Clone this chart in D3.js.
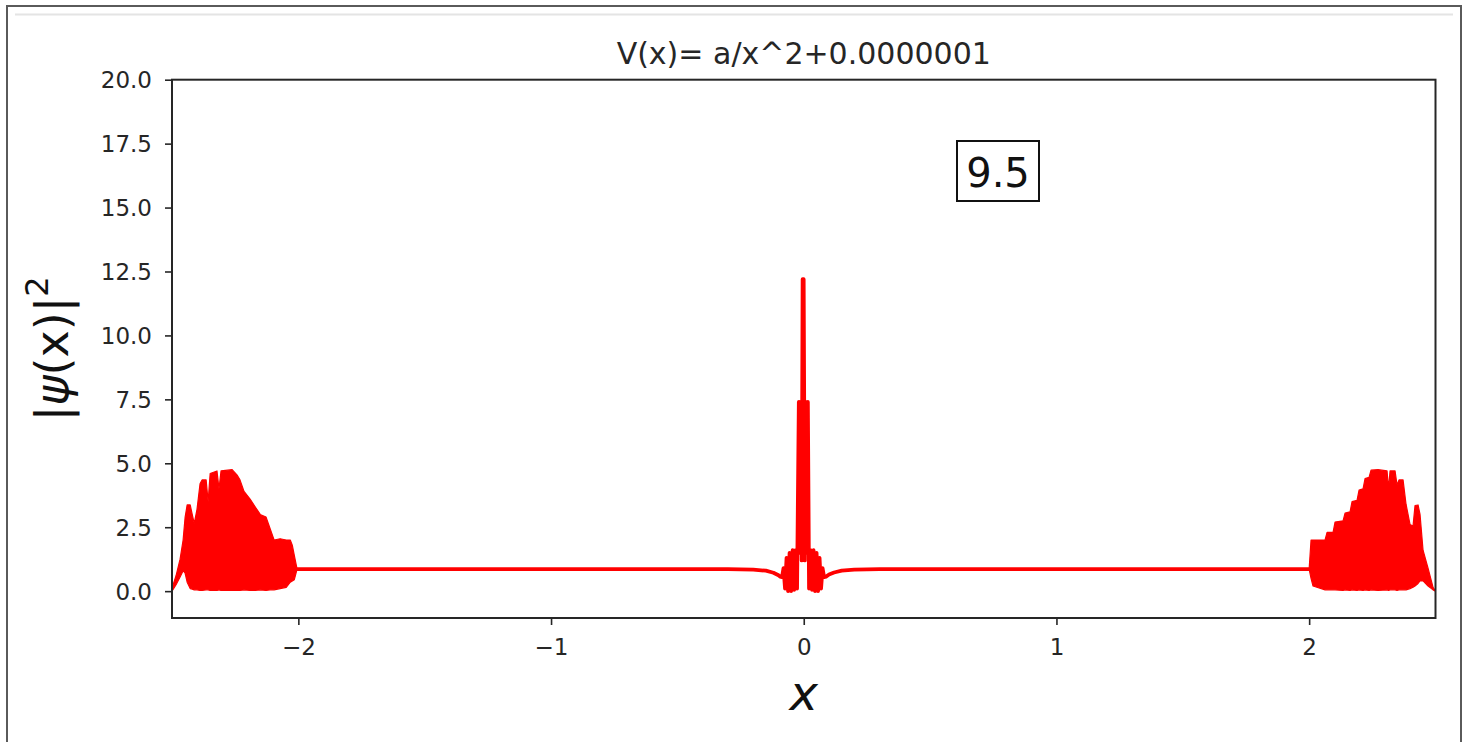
<!DOCTYPE html>
<html><head><meta charset="utf-8">
<script src="https://cdn.jsdelivr.net/npm/d3@7"></script>
<style>
body{margin:0;background:#fff;}
text{font-family:"DejaVu Sans",sans-serif;}
</style>
</head><body>
<svg id="chart" width="1467" height="742"></svg>
<script>
// ---- data ----
const titleText = "V(x)= a/x^2+0.0000001";
const annotationText = "9.5";
const xTicks = [-2, -1, 0, 1, 2];
const xTickLabels = ["\u22122", "\u22121", "0", "1", "2"];
const yTicks = [0, 2.5, 5, 7.5, 10, 12.5, 15, 17.5, 20];
const yTickLabels = ["0.0", "2.5", "5.0", "7.5", "10.0", "12.5", "15.0", "17.5", "20.0"];
const xDomain = [-2.5, 2.5];
const yDomain = [-1.05, 20];

// left oscillating packet: envelope of |psi|^2 (upper / lower)
const leftBurstX = [-2.500,-2.484,-2.468,-2.456,-2.448,-2.440,-2.428,-2.420,-2.412,-2.401,-2.389,-2.381,-2.365,-2.357,-2.349,-2.322,-2.314,-2.306,-2.262,-2.243,-2.231,-2.215,-2.191,-2.171,-2.151,-2.128,-2.112,-2.096,-2.072,-2.048,-2.032,-2.024,-2.016,-2.005];
const leftBurstUpper = [0.12,0.6,1.25,2.0,2.9,3.37,3.37,3.0,2.65,3.2,4.2,4.35,4.35,3.5,4.6,4.7,4.0,4.7,4.75,4.55,4.35,3.9,3.6,3.3,3.0,2.9,2.45,2.0,2.05,2.0,2.0,1.8,1.4,0.86];
const leftBurstLower = [0.0,0.25,0.55,0.8,0.7,0.35,0.1,0.08,0.05,0.05,0.03,0.03,0.05,0.05,0.03,0.03,0.05,0.03,0.03,0.03,0.03,0.05,0.03,0.03,0.05,0.03,0.05,0.05,0.1,0.15,0.35,0.4,0.45,0.86];

// right oscillating packet
const rightBurstX = [2.000,2.0075,2.0154,2.0630,2.0709,2.0946,2.1025,2.1342,2.1421,2.1619,2.1698,2.1895,2.1975,2.2133,2.2212,2.2370,2.2450,2.2727,2.3083,2.3142,2.3201,2.3399,2.3478,2.3557,2.3716,2.3834,2.3993,2.4111,2.4190,2.4309,2.4388,2.4507,2.4705,2.4903,2.500];
const rightBurstUpper = [0.86,2.0,2.0,2.0,2.3,2.3,2.7,2.75,3.05,3.1,3.5,3.55,3.95,4.0,4.4,4.45,4.73,4.75,4.7,4.0,4.7,4.7,4.15,4.35,4.35,3.4,2.6,2.55,3.35,3.37,3.0,1.6,0.9,0.15,0.0];
const rightBurstLower = [0.86,0.5,0.2,0.05,0.05,0.05,0.05,0.03,0.05,0.03,0.05,0.03,0.05,0.03,0.05,0.03,0.05,0.03,0.05,0.03,0.05,0.05,0.03,0.05,0.05,0.05,0.1,0.15,0.2,0.3,0.4,0.4,0.2,0.05,0.0];

// central part of the curve (flat plateau + spike at x = 0)
const centreX = [-2.005,-1.0,-0.30,-0.20,-0.15,-0.12,-0.10,-0.0938,-0.0859,-0.080,-0.074,-0.068,-0.062,-0.056,-0.050,-0.044,-0.038,-0.032,-0.0265,-0.0194,-0.0154,-0.0123,-0.0083,-0.0044,-0.0004,0.0044,0.0083,0.0123,0.0162,0.0210,0.0269,0.0328,0.0388,0.0447,0.0507,0.0566,0.0625,0.0684,0.0744,0.0803,0.0882,0.10,0.12,0.15,0.20,0.30,1.0,2.000];
const centreY = [0.86,0.86,0.86,0.84,0.80,0.72,0.62,0.57,0.55,0.9,0.1,1.3,0.0,1.5,0.0,1.6,0.05,1.6,0.1,7.4,1.5,7.4,1.2,12.2,12.2,1.2,7.4,1.5,7.4,0.1,1.6,0.05,1.6,0.0,1.5,0.0,1.3,0.1,0.9,0.55,0.57,0.65,0.73,0.80,0.84,0.86,0.86,0.86];

// ---- layout ----
const W = 1467, H = 742;
const plot = {left: 172, right: 1435.5, top: 79.7, bottom: 618};
const red = "#ff0000", ink = "#262626";

const svg = d3.select("#chart");
svg.append("rect").attr("width", W).attr("height", H).attr("fill", "#fff");

// outer frame of the screenshot
svg.append("rect").attr("x", 7).attr("y", 6).attr("width", 1454).attr("height", 760)
  .attr("fill", "none").attr("stroke", "#5a5a5a").attr("stroke-width", 2);
svg.append("line").attr("x1", 15).attr("x2", 1453).attr("y1", 14.5).attr("y2", 14.5)
  .attr("stroke", "#e4e4e4").attr("stroke-width", 2);

const x = d3.scaleLinear().domain(xDomain).range([plot.left, plot.right]);
const y = d3.scaleLinear().domain(yDomain).range([plot.bottom, plot.top]);

svg.append("clipPath").attr("id", "clip").append("rect")
  .attr("x", plot.left).attr("y", plot.top)
  .attr("width", plot.right - plot.left).attr("height", plot.bottom - plot.top);

const g = svg.append("g").attr("clip-path", "url(#clip)");

// bursts as filled envelopes
function burst(xs, up, lo) {
  const pts = xs.map((d, i) => ({x: d, u: up[i], l: lo[i]}));
  g.append("path").datum(pts)
    .attr("d", d3.area().x(d => x(d.x)).y0(d => y(d.l)).y1(d => y(d.u)))
    .attr("fill", red).attr("stroke", red).attr("stroke-width", 1.2).attr("stroke-linejoin", "round");
}
burst(leftBurstX, leftBurstUpper, leftBurstLower);
burst(rightBurstX, rightBurstUpper, rightBurstLower);

const centre = centreX.map((d, i) => ({x: d, y: centreY[i]}));
g.append("path").datum(centre)
  .attr("d", d3.line().x(d => x(d.x)).y(d => y(d.y)))
  .attr("fill", "none").attr("stroke", red).attr("stroke-width", 3.8)
  .attr("stroke-linejoin", "round").attr("stroke-linecap", "round");

// axes
const xAxis = d3.axisBottom(x).tickValues(xTicks).tickSize(7).tickPadding(4)
  .tickFormat((d, i) => xTickLabels[i]);
const yAxis = d3.axisLeft(y).tickValues(yTicks).tickSize(7).tickPadding(13)
  .tickFormat((d, i) => yTickLabels[i]);

const gx = svg.append("g").attr("transform", `translate(0,${plot.bottom})`).call(xAxis);
const gy = svg.append("g").attr("transform", `translate(${plot.left},0)`).call(yAxis);
[gx, gy].forEach(a => {
  a.select(".domain").remove();
  a.selectAll(".tick line").attr("stroke", ink).attr("stroke-width", 1.6);
  a.selectAll(".tick text").attr("fill", ink).attr("font-size", 23)
    .attr("font-family", "DejaVu Sans");
});
gx.selectAll(".tick text").attr("dy", null).attr("y", 37);
gy.selectAll(".tick text").attr("dy", "0.36em");

// frame of axes
svg.append("rect").attr("x", plot.left).attr("y", plot.top)
  .attr("width", plot.right - plot.left).attr("height", plot.bottom - plot.top)
  .attr("fill", "none").attr("stroke", ink).attr("stroke-width", 2);

// title
svg.append("text").attr("x", (plot.left + plot.right) / 2).attr("y", 64)
  .attr("text-anchor", "middle").attr("font-size", 30).attr("fill", ink).text(titleText);

// x label
svg.append("text").attr("x", (plot.left + plot.right) / 2).attr("y", 710)
  .attr("text-anchor", "middle").attr("font-size", 48).attr("font-style", "italic")
  .attr("fill", "#111").text("x");

// y label |psi(x)|^2
const yl = svg.append("text")
  .attr("transform", `translate(68,${(plot.top + plot.bottom) / 2}) rotate(-90)`)
  .attr("text-anchor", "middle").attr("font-size", 46).attr("fill", "#111");
yl.append("tspan").text("|");
yl.append("tspan").attr("font-style", "italic").text("\u03c8");
yl.append("tspan").text("(x)|");
yl.append("tspan").attr("font-size", 32).attr("dy", -20).text("2");

// annotation box
svg.append("rect").attr("x", 957).attr("y", 141).attr("width", 82).attr("height", 60)
  .attr("fill", "#fff").attr("stroke", "#111").attr("stroke-width", 2);
svg.append("text").attr("x", 998).attr("y", 187).attr("text-anchor", "middle")
  .attr("font-size", 40).attr("fill", "#111").text(annotationText);
</script>
</body></html>
